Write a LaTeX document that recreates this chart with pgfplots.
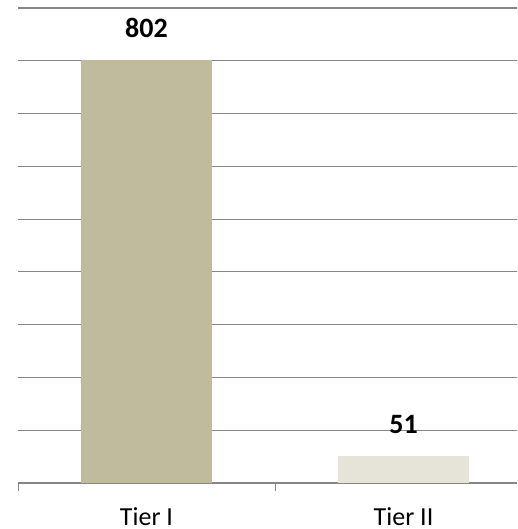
\documentclass[border=0pt]{standalone}
\usepackage{fontspec}
\setmainfont{Carlito}
\usepackage{pgfplots}
\pgfplotsset{compat=1.18}
\definecolor{barA}{RGB}{191,187,156}
\definecolor{barB}{RGB}{230,228,217}
\definecolor{gridgray}{RGB}{134,134,134}
\begin{document}
\begin{tikzpicture}[x=1pt,y=1pt]
\useasboundingbox (0,0) rectangle (517,529);
\clip (0,0) rectangle (517,529);
\begin{axis}[
  at={(18pt,46pt)}, anchor=south west,
  scale only axis, width=514pt, height=475pt,
  xmin=0, xmax=2, ymin=0, ymax=900,
  enlargelimits=false, clip=false,
  ybar, bar width=131pt, bar shift=0pt,
  axis x line=bottom, axis y line=left,
  x axis line style={-, draw=gridgray, line width=1.2pt},
  y axis line style={draw=none},
  xtick={0.5,1.5}, xticklabels={Tier I, Tier II},
  minor xtick={0,1,2},
  major tick length=0pt, minor tick length=8pt,
  xtick align=outside,
  major x tick style={draw=none},
  minor x tick style={draw=gridgray, line width=1pt},
  ytick={100,200,...,900}, yticklabels={}, y tick style={draw=none},
  ymajorgrids, major grid style={draw=gridgray, line width=1.1pt},
  xticklabel style={font=\fontsize{26}{30}\selectfont, anchor=base, inner sep=0pt, yshift=-42pt},
  /pgf/number format/assume math mode=true,
  nodes near coords,
  every node near coord/.append style={font=\bfseries\fontsize{28}{32}\selectfont, anchor=south, inner sep=0pt, yshift=22pt, text=black},
]
\addplot[fill=barA, draw=none] coordinates {(0.5,802)};
\addplot[fill=barB, draw=none] coordinates {(1.5,51)};
\end{axis}
\end{tikzpicture}
\end{document}
